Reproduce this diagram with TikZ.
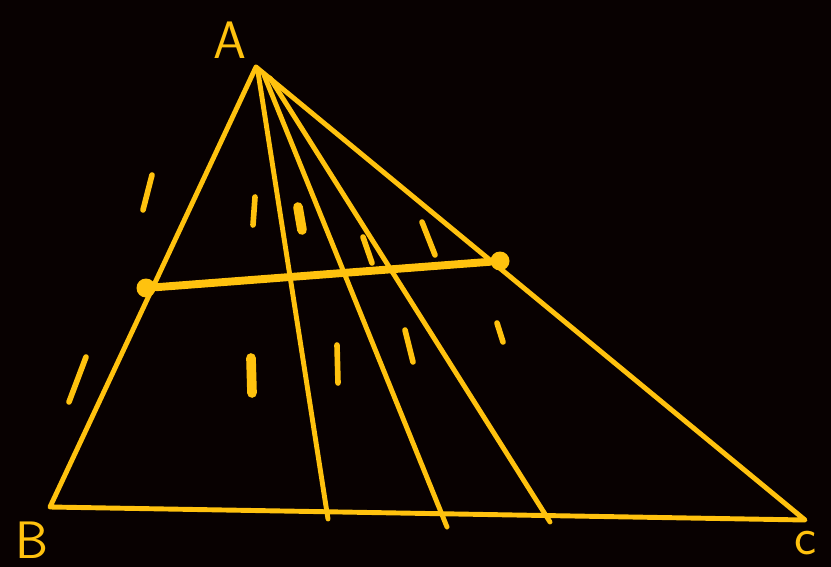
\documentclass[tikz,border=0pt]{standalone}
\usetikzlibrary{positioning}
\definecolor{penyellow}{HTML}{FFC20E}
\definecolor{board}{HTML}{080101}

\begin{document}
\begin{tikzpicture}[
    x=0.02cm, y=-0.02cm,
    edge/.style={draw=penyellow, line width=2.8pt, line cap=round, line join=round},
    midline/.style={draw=penyellow, line width=4.5pt, line cap=round},
    tick/.style={draw=penyellow, line width=3.2pt, line cap=round},
    thicktick/.style={draw=penyellow, line width=5.5pt, line cap=round},
    vertex/.style={text=penyellow, font=\sffamily\fontsize{30}{30}\selectfont},
    dot/.style={circle, fill=penyellow, inner sep=0pt, minimum size=0.38cm}
  ]

  % Fondo
  \fill[board] (0,0) rectangle (831,567);
  \useasboundingbox (0,0) rectangle (831,567);

  % Vertices del triangulo
  \coordinate (A) at (256,67);
  \coordinate (B) at (50,507);
  \coordinate (C) at (805,520);

  % Salidas de las cevianas cerca de A
  \coordinate (A1) at (258,72);
  \coordinate (A2) at (264,75);
  \coordinate (A3) at (270,78);

  % Pies de las cevianas sobre BC
  \coordinate (D1) at (328,519);
  \coordinate (D2) at (447,527);
  \coordinate (D3) at (550,522);

  % Puntos medios
  \node[dot] (M) at (146,288) {};
  \node[dot] (N) at (500,261) {};

  % Etiquetas
  \node[vertex] (labA) at (230,40) {A};
  \node[vertex] (labB) at (32,540) {B};
  \node[vertex] (labC) at (806,543) {c};

  % Triangulo y cevianas
  \draw[edge] (A) -- (B) -- (C) -- (A);
  \draw[edge] (A1) -- (D1);
  \draw[edge] (A2) -- (D2);
  \draw[edge] (A3) -- (D3);

  % Paralela media
  \draw[midline] (M) -- (N);

  % Marcas de segmentos iguales
  \foreach \xa/\ya/\xb/\yb in {152/175/143/210, 86/357/69/402, 255/197/253/225,
                               363/237/372/263, 422/222/435/255, 337/345/338/383,
                               405/330/413/362, 497/323/503/342}
    \draw[tick] (\xa,\ya) -- (\xb,\yb);
  \foreach \xa/\ya/\xb/\yb in {298/207/302/230, 251/358/252/393}
    \draw[thicktick] (\xa,\ya) -- (\xb,\yb);
\end{tikzpicture}
\end{document}
